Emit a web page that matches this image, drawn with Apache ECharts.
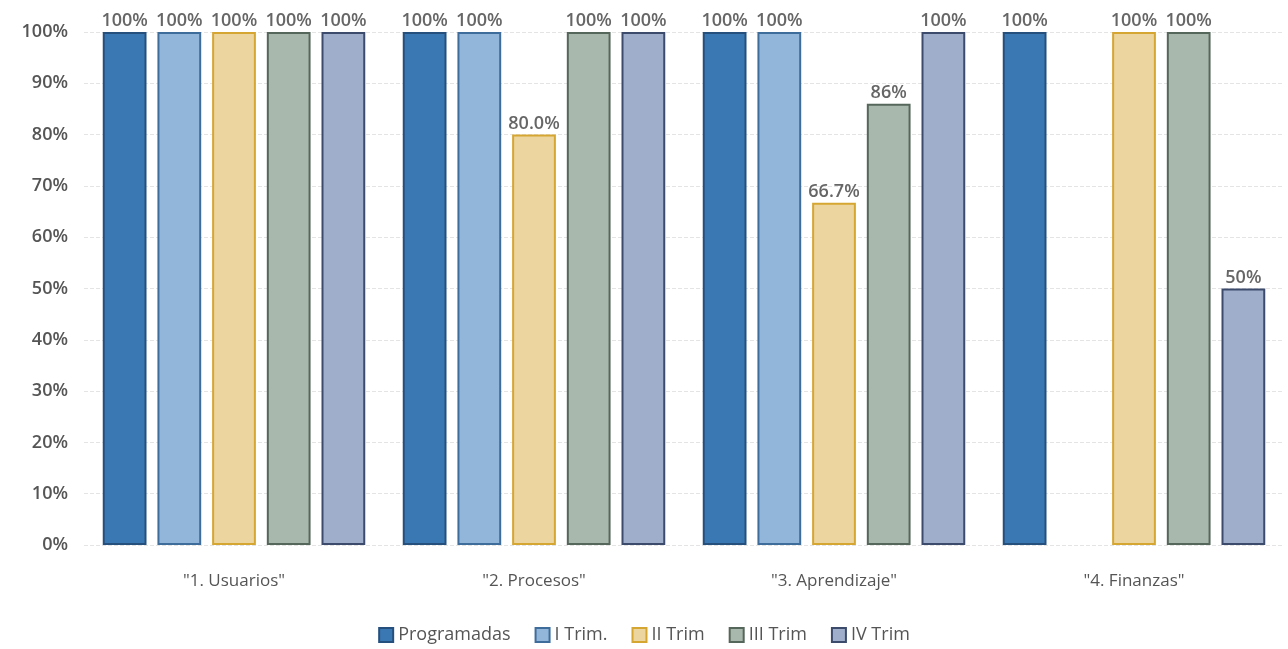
<!DOCTYPE html>
<html><head><meta charset="utf-8">
<script src="https://cdn.jsdelivr.net/npm/echarts@6/dist/echarts.min.js"></script>
<style>html,body{margin:0;padding:0;background:#fff}#c{width:1288px;height:649px}</style>
</head><body><div id="c"></div>
<script>
const categories = ['"1. Usuarios"', '"2. Procesos"', '"3. Aprendizaje"', '"4. Finanzas"'];
const seriesNames = ['Programadas', 'I Trim.', 'II Trim', 'III Trim', 'IV Trim'];
const programadas = [100, 100, 100, 100];
const trim1 = [100, 100, 100, null];
const trim2 = [100, 80.0, 66.7, 100];
const trim3 = [100, 100, 86, 100];
const trim4 = [100, 100, 100, 50];
const labels1 = ['100%', '100%', '100%', '100%'];
const labels2 = ['100%', '100%', '100%', ''];
const labels3 = ['100%', '80.0%', '66.7%', '100%'];
const labels4 = ['100%', '100%', '86%', '100%'];
const labels5 = ['100%', '100%', '100%', '50%'];
const yTicks = [0, 10, 20, 30, 40, 50, 60, 70, 80, 90, 100];

const values = [programadas, trim1, trim2, trim3, trim4];
const labelSets = [labels1, labels2, labels3, labels4, labels5];
const fills = ['#3a78b4', '#92b6da', '#ecd59e', '#a9b8ad', '#9eaecb'];
const borders = ['#25507e', '#3e6d9c', '#d6a632', '#55665a', '#3c4b6c'];

const chart = echarts.init(document.getElementById('c'));
chart.setOption({
  animation: false,
  backgroundColor: '#ffffff',
  grid: { left: 84, right: 4, top: 32, bottom: 104, containLabel: false },
  legend: {
    bottom: 0, left: 'center', itemWidth: 14, itemHeight: 14, itemGap: 24, icon: 'rect',
    textStyle: { fontSize: 18, color: '#555', fontFamily: 'Open Sans' },
    data: seriesNames
  },
  xAxis: {
    type: 'category', data: categories,
    axisLine: { show: false }, axisTick: { show: false },
    axisLabel: { fontSize: 17, color: '#555', margin: 28, fontFamily: 'Open Sans' }
  },
  yAxis: {
    type: 'value', min: yTicks[0], max: yTicks[yTicks.length - 1], interval: 10,
    axisLine: { show: false }, axisTick: { show: false },
    axisLabel: { formatter: '{value}%', fontSize: 18, color: '#555', margin: 16, fontFamily: 'Open Sans', fontWeight: 600 },
    splitLine: { lineStyle: { color: '#e4e4e4', type: 'dashed', width: 1 } }
  },
  series: seriesNames.map((n, i) => ({
    name: n, type: 'bar',
    data: values[i],
    barGap: '25%', barCategoryGap: '12.5%',
    itemStyle: { color: fills[i], borderColor: borders[i], borderWidth: 2 },
    label: {
      show: true, position: 'top', distance: 2,
      fontSize: 18, color: '#666', fontFamily: 'Open Sans', fontWeight: 600,
      formatter: p => labelSets[i][p.dataIndex]
    }
  }))
});
</script></body></html>
